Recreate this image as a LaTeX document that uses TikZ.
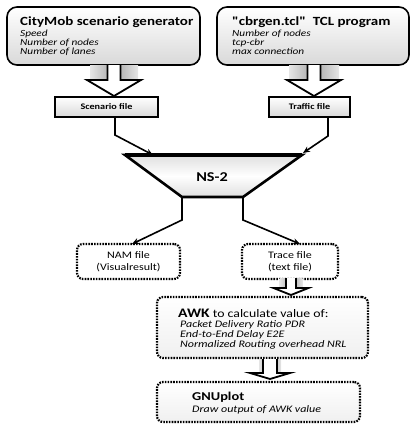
\documentclass[tikz,border=0pt]{standalone}
\usepackage{fontspec}
\setmainfont[FakeStretch=1.2]{Carlito}
\newfontfamily\plainq[FakeStretch=1.2]{Carlito}
\usetikzlibrary{arrows.meta,calc}
\newcommand\blkarrow[7]{% cx, ytop, yhead, ytip, shaft half, head half, rect half
  \shade[left color=gray!20,right color=gray!20,middle color=gray!70]
    ({#1-#7},#2) rectangle ({#1+#7},#3);
  \draw[line width=1.8pt,fill=white,line join=miter]
    ({#1-#5},#2) -- ({#1-#5},#3) -- ({#1-#6},#3) -- (#1,#4) -- ({#1+#6},#3)
    -- ({#1+#5},#3) -- ({#1+#5},#2);
}
\begin{document}
\begin{tikzpicture}[x=1pt,y=-1pt,
  inbox/.style={draw=black,line width=1.6pt,rounded corners=10pt,top color=white,bottom color=gray!30},
  filebox/.style={draw=black,line width=1.5pt,top color=white,bottom color=gray!30,inner sep=0pt},
  dotbox/.style={draw=black,line width=2.2pt,dash pattern=on 1.6pt off 1.2pt,rounded corners=6pt,fill=white},
  dotboxg/.style={dotbox,top color=white,bottom color=gray!12},
  conn/.style={line width=1.6pt,-{Stealth[length=7pt,width=6pt]}},
  ttl/.style={anchor=base west,inner sep=0pt,font=\fontsize{12.5}{13}\selectfont\bfseries},
  itl/.style={anchor=base west,inner sep=0pt,font=\fontsize{9.4}{10}\selectfont\itshape},
  itm/.style={anchor=base west,inner sep=0pt,font=\fontsize{10}{11}\selectfont\itshape},
  ftxt/.style={inner sep=0pt,font=\fontsize{8.5}{9}\selectfont\bfseries},
  ntxt/.style={inner sep=0pt,font=\fontsize{10}{11}\selectfont}]
\useasboundingbox (0,0) rectangle (417,429);

% top input boxes
\draw[inbox] (7,7) rectangle (200,65);
\node[ttl] (t1) at (20,25) {CityMob scenario generator};
\node[itl] (t1a) at (20,36) {Speed};
\node[itl] (t1b) at (20,45) {Number of nodes};
\node[itl] (t1c) at (20,54) {Number of lanes};

\draw[inbox] (217,7) rectangle (409,65);
\node[ttl] (t2) at (232,25) {{\plainq\bfseries "cbrgen.tcl"}\ \ TCL program};
\node[itl] (t2a) at (232,36) {Number of nodes};
\node[itl] (t2b) at (232,45) {tcp-cbr};
\node[itl] (t2c) at (232,54) {max connection};

% block arrows top
\blkarrow{114}{65}{80}{96}{6.5}{27}{24}
\blkarrow{314}{65}{80}{96}{6.5}{27}{25}

% file boxes
\node[filebox,minimum width=103pt,minimum height=20pt] (scen) at (106.5,107) {};
\node[ftxt] (scent) at (scen.center) {Scenario file};
\node[filebox,minimum width=81pt,minimum height=20pt] (traf) at (309.5,107) {};
\node[ftxt] (traft) at (traf.center) {Traffic file};

% NS-2 trapezoid
\coordinate (nsTL) at (125,155);
\coordinate (nsTR) at (302,155);
\coordinate (nsBR) at (243,197);
\coordinate (nsBL) at (182,197);
\draw[line width=2.6pt,line join=miter,top color=gray!25,bottom color=gray!25,middle color=white]
  (nsTL) -- (nsTR) -- (nsBR) -- (nsBL) -- cycle;
\draw[line width=4pt] (nsTL) -- (nsTR);
\node[inner sep=0pt,font=\fontsize{13.5}{14}\selectfont\bfseries] (ns) at (212,177) {NS-2};

% connectors into NS-2
\coordinate (b1) at (115,135);
\coordinate (in1) at (153,155);
\draw[conn] (b1 |- scen.south) -- (b1) -- (in1);
\coordinate (b2) at (328,136);
\coordinate (in2) at (303,153);
\draw[conn] (b2 |- traf.south) -- (b2) -- (in2);

% output boxes
\node[dotbox,minimum width=103pt,minimum height=35pt] (nam) at (128.5,261.5) {};
\node[ntxt] (namA) at (128.5,255.5) {NAM file};
\node[ntxt] (namB) at (128.5,268) {(Visualresult)};
\node[dotbox,minimum width=96pt,minimum height=35pt] (trace) at (290,261.5) {};
\node[ntxt] (trA) at (290,255.5) {Trace file};
\node[ntxt] (trB) at (290,268) {(text file)};

% connectors out of NS-2
\coordinate (b3) at (182,220);
\draw[conn] (nsBL) -- (b3) -- (132,244);
\coordinate (b4) at (243,220);
\draw[conn] (nsBR) -- (b4) -- (300,244);

% block arrow trace -> AWK
\blkarrow{291}{278}{288}{295}{5}{17.5}{11.5}

% AWK box
\node[dotboxg,minimum width=211pt,minimum height=61pt] (awk) at (262.5,327.5) {};
\node[anchor=base west,inner sep=0pt] (awkt) at (178,317)
  {\fontsize{13}{14}\selectfont\bfseries AWK\fontsize{11.5}{12}\selectfont\mdseries\ to calculate value of:};
\node[itm] (awk1) at (180,327) {Packet Delivery Ratio PDR};
\node[itm] (awk2) at (180,337) {End-to-End Delay E2E};
\node[itm] (awk3) at (180,347) {Normalized Routing overhead NRL};

% block arrow AWK -> GNUplot
\blkarrow{270}{359}{373}{379}{7}{20}{11}

% GNUplot box
\node[dotboxg,minimum width=203pt,minimum height=40pt] (gnu) at (258.5,402) {};
\node[anchor=base west,inner sep=0pt,font=\fontsize{12}{13}\selectfont\bfseries] (gnut) at (192,400) {GNUplot};
\node[itm] (gnu1) at (192,412) {Draw output of AWK value};
\end{tikzpicture}
\end{document}
